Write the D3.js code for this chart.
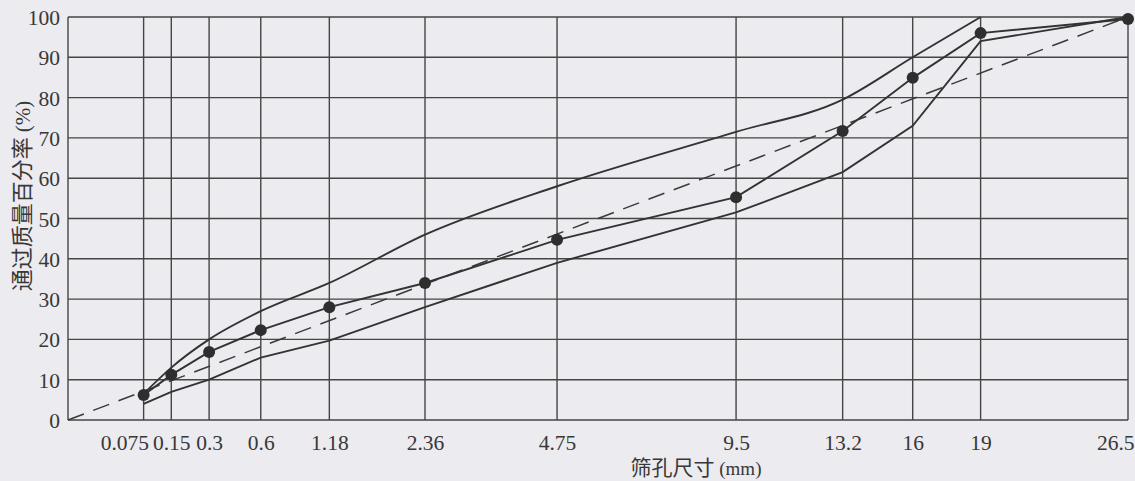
<!DOCTYPE html>
<html>
	<head>
		<meta charset="utf-8">
		<title>级配曲线</title>

		<!--libs-->
		<script src="https://cdn.jsdelivr.net/npm/d3@7"></script>

		<!--css-->
		<style>
			html, body {
				margin: 0;
				padding: 0;
				background: #ecebef;
			}

			.tick-label {
				font-family: "Liberation Serif", "DejaVu Serif", serif;
				font-size: 21.5px;
				fill: #383838;
			}

			.title {
				font-family: "Noto Sans CJK SC", sans-serif;
				font-size: 21px;
				fill: #383838;
			}

			.grid line {
				stroke: #454545;
				stroke-width: 1.4;
			}
		</style>
	</head>
	<body>
		<div id="chart"></div>

		<script>
			//data
			var sieves = [0.075, 0.15, 0.3, 0.6, 1.18, 2.36, 4.75, 9.5, 13.2, 16, 19, 26.5];
			var sieveLabels = ['0.075', '0.15', '0.3', '0.6', '1.18', '2.36', '4.75', '9.5', '13.2', '16', '19', '26.5'];
			var upperLimit = [6.5, 13, 20, 27, 34, 46, 58, 71.5, 79.5, 90, 100, null];
			var lowerLimit = [4, 7, 10, 15.5, 19.7, 28, 39, 51.5, 61.5, 73, 94, 100];
			var gradation = [6.2, 11.2, 16.9, 22.3, 28, 34, 44.7, 55.3, 71.7, 84.9, 96, 99.5];
			var maxDensityX = [0, 26.5];
			var maxDensityY = [0, 100];
			var yTicks = [0, 10, 20, 30, 40, 50, 60, 70, 80, 90, 100];

			var width = 1135,
				height = 481,
				margin = {top: 17, right: 7, bottom: 61, left: 68};

			var svg = d3.select('#chart')
				.append('svg')
				.attr('width', width)
				.attr('height', height);

			var x = d3.scalePow()
				.exponent(0.45)
				.domain([0, 26.5])
				.range([margin.left, width - margin.right]);

			var y = d3.scaleLinear()
				.domain([0, 100])
				.range([height - margin.bottom, margin.top]);

			//__grid
			var grid = svg.append('g').attr('class', 'grid');

			grid.selectAll('line.h').data(yTicks)
				.enter().append('line')
				.attr('class', 'h')
				.attr('x1', x(0))
				.attr('x2', x(26.5))
				.attr('y1', function(d) { return y(d); })
				.attr('y2', function(d) { return y(d); });

			grid.selectAll('line.v').data([0].concat(sieves))
				.enter().append('line')
				.attr('class', 'v')
				.attr('x1', function(d) { return x(d); })
				.attr('x2', function(d) { return x(d); })
				.attr('y1', y(0))
				.attr('y2', y(100));

			//__axes labels
			var yAxis = d3.axisLeft(y).tickValues(yTicks).tickSize(0).tickPadding(8);
			var gy = svg.append('g')
				.attr('transform', 'translate(' + x(0) + ',0)')
				.call(yAxis);
			gy.select('.domain').remove();
			gy.selectAll('text')
				.attr('class', 'tick-label')
				.attr('dy', '0.35em')
				.attr('fill', null);

			var last = sieves.length - 1;
			var xAxis = d3.axisBottom(x)
				.tickValues(sieves)
				.tickFormat(function(d, i) { return sieveLabels[i]; })
				.tickSize(0)
				.tickPadding(15);
			var gx = svg.append('g')
				.attr('transform', 'translate(0,' + y(0) + ')')
				.call(xAxis);
			gx.select('.domain').remove();
			gx.selectAll('text')
				.attr('class', 'tick-label')
				.attr('fill', null)
				.attr('text-anchor', function(d, i) {
					return i === 0 || i === last ? 'end' : 'middle';
				})
				.attr('dx', function(d, i) {
					return i === 0 ? 5 : (i === last ? 6 : 0);
				});

			gx.attr('font-family', null).attr('font-size', null);
			gy.attr('font-family', null).attr('font-size', null);

			//__titles
			svg.append('text')
				.attr('class', 'title')
				.attr('transform', 'translate(30,196) rotate(-90)')
				.attr('text-anchor', 'middle')
				.style('font-size', '22px')
				.text('通过质量百分率 ')
				.append('tspan')
				.attr('class', 'tick-label')
				.style('font-size', '21px')
				.text('(%)');

			svg.append('text')
				.attr('class', 'title')
				.attr('x', 696)
				.attr('y', 475)
				.attr('text-anchor', 'middle')
				.text('筛孔尺寸 ')
				.append('tspan')
				.attr('class', 'tick-label')
				.style('font-size', '19px')
				.text('(mm)');

			//__curves
			var curves = svg.append('g').attr('class', 'curves');

			var smooth = d3.line()
				.defined(function(d) { return d[1] != null; })
				.x(function(d) { return x(d[0]); })
				.y(function(d) { return y(d[1]); })
				.curve(d3.curveMonotoneX);

			var straight = d3.line()
				.x(function(d) { return x(d[0]); })
				.y(function(d) { return y(d[1]); });

			function pairs(vals) {
				return sieves.map(function(s, i) { return [s, vals[i]]; });
			}

			curves.append('path')
				.attr('d', straight(maxDensityX.map(function(d, i) { return [d, maxDensityY[i]]; })))
				.attr('fill', 'none')
				.attr('stroke', '#3a3a3a')
				.attr('stroke-width', 1.5)
				.attr('stroke-dasharray', '17,10');

			curves.append('path')
				.attr('d', smooth(pairs(upperLimit)))
				.attr('fill', 'none')
				.attr('stroke', '#333')
				.attr('stroke-width', 1.9);

			curves.append('path')
				.attr('d', straight(pairs(lowerLimit)))
				.attr('fill', 'none')
				.attr('stroke', '#333')
				.attr('stroke-width', 1.9);

			curves.append('path')
				.attr('d', straight(pairs(gradation)))
				.attr('fill', 'none')
				.attr('stroke', '#333')
				.attr('stroke-width', 1.9);

			curves.selectAll('circle').data(pairs(gradation))
				.enter().append('circle')
				.attr('cx', function(d) { return x(d[0]); })
				.attr('cy', function(d) { return y(d[1]); })
				.attr('r', 6)
				.attr('fill', '#2e2e2e');
		</script>
	</body>
</html>
